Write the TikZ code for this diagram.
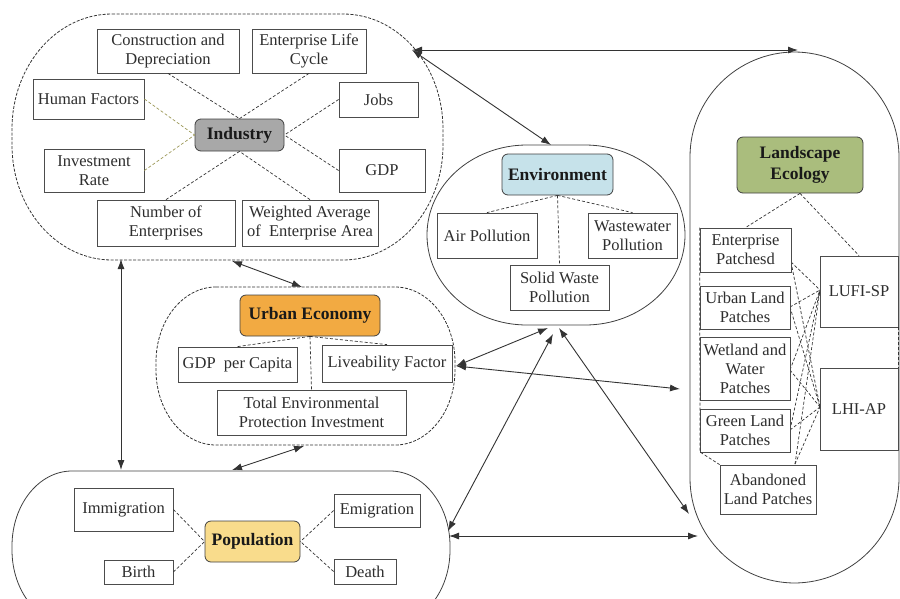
\documentclass[tikz,border=0pt]{standalone}
\usepackage{fontspec}
\setmainfont{Liberation Serif}
\usetikzlibrary{arrows.meta}
\definecolor{indfill}{HTML}{A8A8A8}
\definecolor{envfill}{HTML}{C6E2EA}
\definecolor{lefill}{HTML}{AABD7D}
\definecolor{uefill}{HTML}{F2AA42}
\definecolor{popfill}{HTML}{F9DC8C}
\definecolor{olivedash}{HTML}{9C9858}
\newcommand\mybox[7]{\node[#1, minimum width={(#5-#3)*1pt}, minimum height={(#6-#4)*1pt}] (#2) at ({(#3+#5)/2},{(#4+#6)/2}) {#7};}
\newcommand\myregion[7]{\draw[#1] ({#2+#6},#3) -- ({#4-#6},#3) arc[start angle=-90,end angle=0,x radius=#6,y radius=#7] -- (#4,{#5-#7}) arc[start angle=0,end angle=90,x radius=#6,y radius=#7] -- ({#2+#6},#5) arc[start angle=90,end angle=180,x radius=#6,y radius=#7] -- (#2,{#3+#7}) arc[start angle=180,end angle=270,x radius=#6,y radius=#7] -- cycle;}
\begin{document}
\begin{tikzpicture}[x=1pt,y=-1pt,
  box/.style={draw=black!70, line width=0.8pt, fill=white, inner sep=0pt, align=center, font=\fontsize{16.5}{19}\selectfont, text=black!82},
  head/.style={draw=black!75, line width=0.8pt, rounded corners=6pt, inner sep=0pt, align=center, font=\fontsize{17.5}{21}\selectfont\bfseries, text=black!90},
  dsh/.style={draw=black!80, line width=0.7pt, dash pattern=on 3pt off 2pt},
  odsh/.style={draw=olivedash, line width=0.7pt, dash pattern=on 3pt off 2pt},
  dreg/.style={draw=black!80, line width=0.8pt, dash pattern=on 3pt off 1.5pt},
  sreg/.style={draw=black!75, line width=0.8pt},
  link/.style={draw=black!80, line width=0.9pt, {Latex[length=10pt,width=7pt]}-{Latex[length=10pt,width=7pt]}},
]
\path[use as bounding box] (0,0) rectangle (900,598);
\clip (0,0) rectangle (900,598);

% regions
\myregion{dreg}{12}{14}{443}{260}{100}{115}
\myregion{sreg}{427}{145}{685}{325}{100}{90}
\myregion{dreg}{156}{287}{455}{445}{60}{75}
\myregion{sreg}{12}{471}{450}{625}{60}{75}
\myregion{sreg}{690}{52}{899}{583}{105}{105}

% connector end points
\coordinate (iTR) at (412,50);
\coordinate (lTop) at (798,50);
\coordinate (eTop) at (551,145);
\coordinate (iBot) at (232,261);
\coordinate (uTop) at (302,287);
\coordinate (iBotL) at (121,259);
\coordinate (pTopL) at (121,470);
\coordinate (uBot) at (304,446);
\coordinate (pTop) at (232,470);
\coordinate (uRight) at (456,366);
\coordinate (eBotA) at (548,328);
\coordinate (eBotB) at (553,334);
\coordinate (eBotC) at (559,328);
\coordinate (lLeftA) at (680,389);
\coordinate (lLeftB) at (689,514);
\coordinate (lLeftC) at (698,536);
\coordinate (pRightA) at (448,531);
\coordinate (pRightB) at (449,536);
\coordinate (ldash) at (700,452);

% main arrows
\draw[link] (iTR) -- (lTop);
\draw[link] (iTR) -- (eTop);
\draw[link] (iBot) -- (uTop);
\draw[link] (iBotL) -- (pTopL);
\draw[link] (uBot) -- (pTop);
\draw[link] (uRight) -- (eBotA);
\draw[link] (uRight) -- (lLeftA);
\draw[link] (pRightA) -- (eBotB);
\draw[link] (eBotC) -- (lLeftB);
\draw[link] (pRightB) -- (lLeftC);

% Industry
\mybox{head,fill=indfill}{ind}{195}{119}{284}{151}{Industry}
\mybox{box}{cd}{97}{29}{239}{73}{Construction and\\Depreciation}
\mybox{box}{elc}{252}{29}{366}{73}{Enterprise Life\\Cycle}
\mybox{box}{hf}{33}{79}{144}{119}{Human Factors}
\mybox{box}{jobs}{339}{82}{418}{117}{Jobs}
\mybox{box}{ir}{44}{149}{144}{192}{Investment\\Rate}
\mybox{box}{gdp}{339}{149}{425}{192}{GDP}
\mybox{box}{ne}{97}{200}{235}{246}{Number of\\Enterprises}
\mybox{box}{wa}{242}{200}{378}{246}{Weighted Average\\of\ \ Enterprise Area}
\draw[dsh] (cd.south) -- (ind.north);
\draw[dsh] (elc.south) -- (ind.north);
\draw[odsh] (hf.east) -- (ind.west);
\draw[odsh] (ir.east) -- (ind.west);
\draw[dsh] (jobs.west) -- (ind.east);
\draw[dsh] (gdp.west) -- (ind.east);
\draw[dsh] (ne.north) -- (ind.south);
\draw[dsh] (wa.north) -- (ind.south);

% Environment
\mybox{head,fill=envfill}{env}{502}{154}{613}{195}{Environment}
\mybox{box}{air}{437}{213}{537}{258}{Air Pollution}
\mybox{box}{ww}{588}{213}{677}{258}{Wastewater\\Pollution}
\mybox{box}{sw}{510}{265}{609}{310}{Solid Waste\\Pollution}
\draw[dsh] (env.south) -- (air.north);
\draw[dsh] (env.south) -- (ww.north);
\draw[dsh] (env.south) -- (sw.north);

% Urban Economy
\mybox{head,fill=uefill}{ue}{240}{295}{380}{336}{Urban Economy}
\mybox{box}{gpc}{178}{347}{297}{382}{GDP\ \ per Capita}
\mybox{box}{liv}{322}{345}{452}{382}{Liveability Factor}
\mybox{box}{tepi}{217}{390}{406}{435}{Total Environmental\\Protection Investment}
\draw[dsh] (ue.south) -- (gpc.north);
\draw[dsh] (ue.south) -- (liv.north);
\draw[dsh] (ue.south) -- (tepi.north);

% Population
\mybox{head,fill=popfill}{pop}{205}{521}{300}{562}{Population}
\mybox{box}{imm}{74}{488}{173}{531}{Immigration}
\mybox{box}{birth}{104}{560}{173}{584}{Birth}
\mybox{box}{emi}{334}{494}{420}{527}{Emigration}
\mybox{box}{death}{334}{559}{396}{584}{Death}
\draw[dsh] (imm.east) -- (pop.west);
\draw[dsh] (birth.east) -- (pop.west);
\draw[dsh] (emi.west) -- (pop.east);
\draw[dsh] (death.west) -- (pop.east);

% Landscape Ecology
\coordinate (lufiL) at (820,290);
\coordinate (lhiL) at (820,407);
\coordinate (epR) at (791,262);
\coordinate (ulR) at (790,307);
\coordinate (wlR) at (790,370);
\coordinate (glR) at (790,430);
\coordinate (abT) at (795,464);
\foreach \s in {epR,ulR,wlR,glR,abT}{
  \draw[dsh] (\s) -- (lufiL);
  \draw[dsh] (\s) -- (lhiL);
}
\mybox{head,fill=lefill}{le}{737}{137}{863}{193}{Landscape\\Ecology}
\mybox{box}{ep}{700}{228}{791}{272}{Enterprise\\Patchesd}
\mybox{box}{ul}{700}{286}{790}{329}{Urban Land\\Patches}
\mybox{box}{wl}{700}{337}{790}{400}{Wetland and\\Water\\Patches}
\mybox{box}{gl}{700}{409}{790}{452}{Green Land\\Patches}
\mybox{box}{ab}{720}{465}{816}{514}{Abandoned\\Land Patches}
\mybox{box}{lufi}{820}{256}{898}{327}{LUFI-SP}
\mybox{box}{lhi}{820}{368}{898}{450}{LHI-AP}
\draw[dsh] (le.south) -- (ep.north);
\draw[dsh] (le.south) -- (lufi.north);
\draw[dsh] (ep.north west) -- (ldash) -- (ab.north west);
\draw[dsh] (lufi.south east) -- (lhi.north east);
\end{tikzpicture}
\end{document}
